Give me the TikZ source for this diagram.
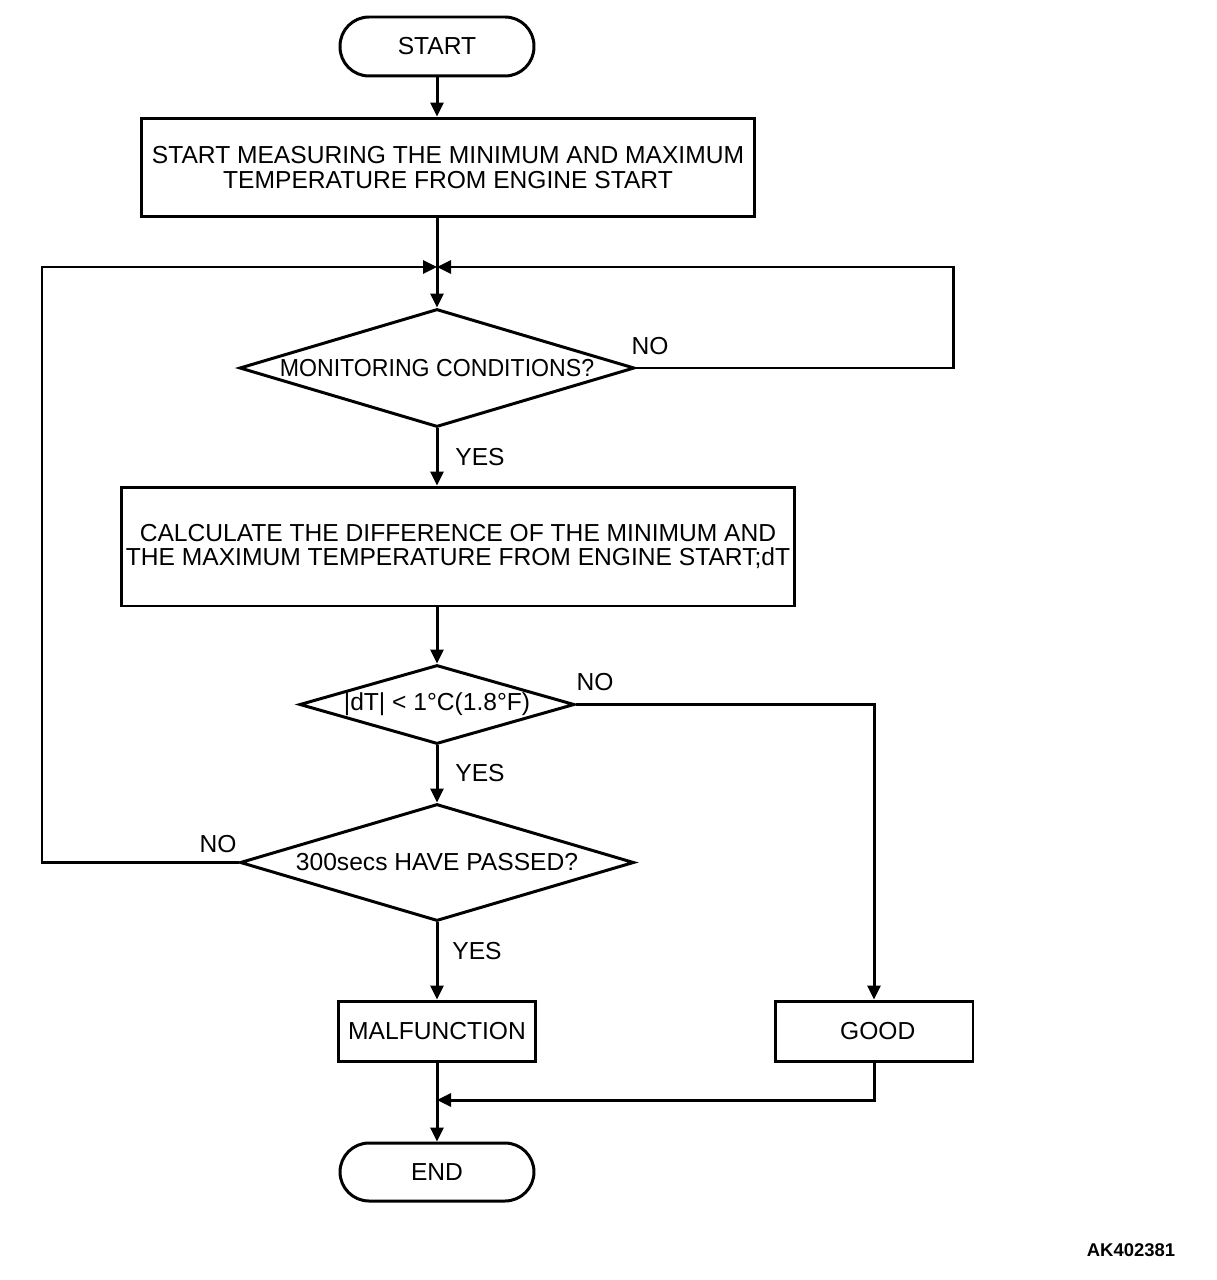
\documentclass[tikz,border=0pt]{standalone}
\usepackage{fontspec}
\setmainfont{Liberation Sans}
\usetikzlibrary{arrows.meta,shapes.geometric}

\tikzset{
  line/.style={line width=1.7pt},
  arr/.style={line, -{Triangle[length=0.28cm,width=0.26cm]}},
  term/.style={line, draw, rectangle, rounded corners=0.58cm, minimum width=3.88cm, minimum height=1.18cm},
  proc/.style={line, draw, rectangle, align=center, inner sep=0pt},
  dec/.style={line, draw, diamond, inner sep=0pt},
  lbl/.style={inner sep=0pt}
}

\begin{document}
\begin{tikzpicture}[x=0.02cm, y=-0.02cm, font=\fontsize{14}{13.7}\selectfont]
	%%%%% FRAME %%%%%
	\useasboundingbox (0,0) rectangle (1216,1280);
	
	%%%%% BLOCKS %%%%%
	\node[term] (start) at (437, 46.5) {START};
	\node[proc, minimum width=12.28cm, minimum height=1.98cm] (measure) at (448, 167.5)
		{START MEASURING THE MINIMUM AND MAXIMUM\\TEMPERATURE FROM ENGINE START};
	\node[dec, aspect=3.35, minimum width=7.9cm, minimum height=2.36cm] (mon) at (437, 368)
		{\addfontfeatures{FakeStretch=0.94}MONITORING CONDITIONS?};
	\node[proc, minimum width=13.48cm, minimum height=2.38cm] (calc) at (458, 546.5)
		{CALCULATE THE DIFFERENCE OF THE MINIMUM AND\\THE MAXIMUM TEMPERATURE FROM ENGINE START;dT};
	\node[dec, aspect=3.48, minimum width=5.5cm, minimum height=1.58cm] (dt) at (437, 704.5) {|dT| < 1\textdegree C(1.8\textdegree F)};
	\node[dec, aspect=3.37, minimum width=7.88cm, minimum height=2.34cm] (pass) at (437, 862.5) {300secs HAVE PASSED?};
	\node[proc, minimum width=3.96cm, minimum height=1.2cm] (malf) at (437, 1031) {MALFUNCTION};
	\node[proc, minimum width=3.96cm, minimum height=1.2cm] (good) at (874, 1031) {\hspace{0.15cm}GOOD};
	\node[term, minimum height=1.16cm] (end) at (437, 1172) {END};
	
	\coordinate (merge) at (437, 267);
	\coordinate (rloop) at (953, 267);
	\coordinate (lloop) at (42, 267);
	\coordinate (join) at (437, 1100);
	
	%%%%% CONNECTORS %%%%%
	\draw[arr] (start) -- (start |- measure.north);
	\draw[arr] (measure.south -| merge) -- (mon.north);
	\draw[arr] (mon.east) -| (rloop) -- (merge);
	\draw[arr] (mon.south) -- (calc.north -| mon.south);
	\draw[arr] (calc.south -| dt.north) -- (dt.north);
	\draw[arr] (dt.east) -| (good.north);
	\draw[arr] (dt.south) -- (pass.north);
	\draw[arr] (pass.west) -| (lloop) -- (merge);
	\draw[arr] (pass.south) -- (malf.north);
	\draw[arr] (malf.south) -- (end.north);
	\draw[arr] (good.south) |- (join);
	
	%%%%% LABELS %%%%%
	\node[lbl] (no1) at (650, 346) {NO};
	\node[lbl] (yes1) at (480, 457) {YES};
	\node[lbl] (no2) at (595, 682) {NO};
	\node[lbl] (yes2) at (480, 773) {YES};
	\node[lbl] (no3) at (218, 844) {NO};
	\node[lbl] (yes3) at (477, 951) {YES};
	\node[lbl, font=\fontsize{10.5}{12}\selectfont\bfseries] (code) at (1131, 1250) {AK402381};
\end{tikzpicture}
\end{document}
